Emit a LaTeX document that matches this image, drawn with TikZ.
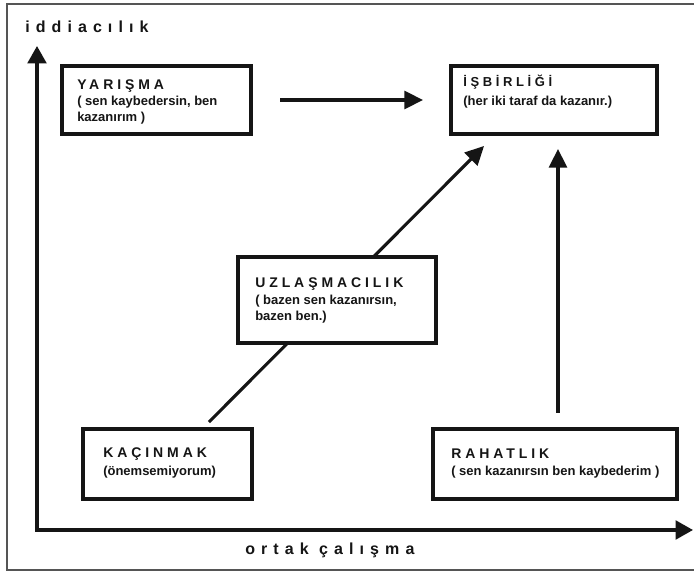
\documentclass[tikz,border=0pt]{standalone}
\usepackage{fontspec}
\setmainfont{Liberation Sans}
\newfontfamily\capsfont{Liberation Sans}[LetterSpace=28]
\newfontfamily\axisfont{Liberation Sans}[LetterSpace=38]
\usetikzlibrary{arrows.meta,calc}
\definecolor{ink}{HTML}{151515}
\definecolor{rim}{HTML}{555555}
\tikzset{
  card/.style={draw=ink, line width=2.3pt, fill=white, inner sep=0pt, outer sep=0pt, anchor=north west},
  head/.style={anchor=base west, inner sep=0pt, text=ink, font=\capsfont\bfseries\fontsize{10.5}{12}\selectfont},
  smallhead/.style={head, font=\capsfont\bfseries\fontsize{9.75}{12}\selectfont},
  note/.style={anchor=base west, inner sep=0pt, text=ink, font=\bfseries\fontsize{9.75}{12}\selectfont},
  axislabel/.style={anchor=base west, inner sep=0pt, text=ink, font=\axisfont\bfseries\fontsize{12}{14}\selectfont},
  link/.style={draw=ink, line width=2.3pt, -{Triangle[length=14pt,width=13.5pt]}},
  axis/.style={draw=ink, line width=2.3pt, line join=miter,
    {Triangle[length=13pt,width=14pt]}-{Triangle[length=13pt,width=14pt]}},
}
\begin{document}
\begin{tikzpicture}[x=0.75pt,y=-0.75pt]
  % canvas and outer frame
  \fill[white] (0,0) rectangle (694,573);
  \useasboundingbox (0,0) rectangle (694,573);
  \draw[rim, line width=1.5pt] (7,4) rectangle (720,570);

  % axes
  \coordinate (o) at (37,530);
  \coordinate (ytip) at (37,46);
  \coordinate (xtip) at (693,530);
  \draw[axis] (ytip) -- (o) -- (xtip);
  \node[axislabel] (ylab) at (25,33) {iddiacılık};
  \node[axislabel] (xlab) at (245,555) {ortak çalışma};

  % boxes
  \node[card, minimum width=141.75pt, minimum height=51pt] (yar) at (62,66) {};
  \node[card, minimum width=154.5pt, minimum height=51pt] (isb) at (451,66) {};
  \node[card, minimum width=126.75pt, minimum height=52.5pt] (kac) at (83,429) {};
  \node[card, minimum width=183pt, minimum height=52.5pt] (rah) at (433,429) {};

  % connectors
  \draw[link, shorten <=21.75pt, shorten >=21pt] (yar.east) -- (isb.west);
  \coordinate (d0) at ($(kac.north west)+(119,0)$);
  \coordinate (d1) at ($(isb.south west)+(45,0)$);
  \draw[link, shorten <=7.4pt, shorten >=12.7pt] (d0) -- (d1);
  \coordinate (v0) at ($(rah.north west)+(125,0)$);
  \draw[link, shorten <=12pt, shorten >=11.25pt] (v0) -- (v0 |- isb.south);

  % middle box sits on top of the diagonal
  \node[card, minimum width=148.5pt, minimum height=64.5pt] (uzl) at (238,257) {};

  % box texts
  \node[head] (yarT) at ($(yar.north west)+(15,24)$) {YARIŞMA};
  \node[note] (yarA) at ($(yar.north west)+(15,40)$) {( sen kaybedersin, ben};
  \node[note] (yarB) at ($(yar.north west)+(15,56)$) {kazanırım )};

  \node[smallhead] (isbT) at ($(isb.north west)+(12,21)$) {İŞBİRLİĞİ};
  \node[note] (isbA) at ($(isb.north west)+(12,40)$) {(her iki taraf da kazanır.)};

  \node[head] (uzlT) at ($(uzl.north west)+(17,31)$) {UZLAŞMACILIK};
  \node[note] (uzlA) at ($(uzl.north west)+(17,48)$) {( bazen sen kazanırsın,};
  \node[note] (uzlB) at ($(uzl.north west)+(17,64)$) {bazen ben.)};

  \node[head] (kacT) at ($(kac.north west)+(20,29)$) {KAÇINMAK};
  \node[note] (kacA) at ($(kac.north west)+(20,47)$) {(önemsemiyorum)};

  \node[head] (rahT) at ($(rah.north west)+(18,30)$) {RAHATLIK};
  \node[note] (rahA) at ($(rah.north west)+(18,47)$) {( sen kazanırsın ben kaybederim )};
\end{tikzpicture}
\end{document}
